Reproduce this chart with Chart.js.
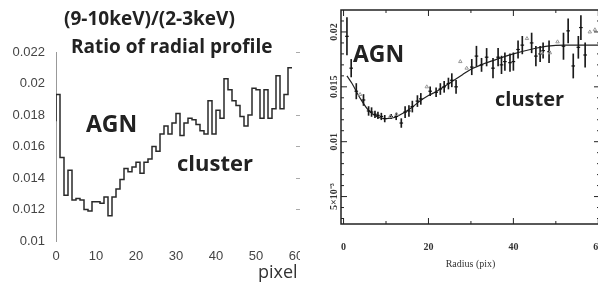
<!DOCTYPE html>
<html lang="en">
<head>
  <meta charset="UTF-8" />
  <title>Ratio of radial profile</title>
  <script src="https://cdn.jsdelivr.net/npm/chart.js"></script>
  <style>
    body {
      margin: 0;
      width: 598px;
      height: 283px;
      overflow: hidden;
      position: relative;
      background: #fff;
      font-family: "Open Sans", Arial, sans-serif;
    }
    #leftChart { position: absolute; left: 0; top: 0; }
    #rightChart { position: absolute; left: 300px; top: 0; background: #fff; }
    .note {
      position: absolute;
      white-space: nowrap;
      font-weight: bold;
      color: #222;
      line-height: 1;
    }
  </style>
</head>
<body>
  <canvas id="leftChart" width="312" height="283"></canvas>
  <canvas id="rightChart" width="320" height="283"></canvas>

  <div class="note" style="left:64px; top:9px; font-size:19px;">(9-10keV)/(2-3keV)</div>
  <div class="note" style="left:71px; top:37px; font-size:19px;">Ratio of radial profile</div>
  <div class="note" style="left:86px; top:112px; font-size:23px;">AGN</div>
  <div class="note" style="left:177px; top:151px; font-size:22px;">cluster</div>
  <div class="note" style="left:258px; top:262px; font-size:18px; font-weight:normal; color:#333;">pixel</div>
  <div class="note" style="left:353px; top:42px; font-size:23px;">AGN</div>
  <div class="note" style="left:495px; top:89px; font-size:20px;">cluster</div>

  <script>
    // left panel: (9-10keV)/(2-3keV) ratio, one value per pixel bin
    const pixelBins = [0, 1, 2, 3, 4, 5, 6, 7, 8, 9, 10, 11, 12, 13, 14, 15, 16, 17, 18, 19,
      20, 21, 22, 23, 24, 25, 26, 27, 28, 29, 30, 31, 32, 33, 34, 35, 36, 37, 38, 39,
      40, 41, 42, 43, 44, 45, 46, 47, 48, 49, 50, 51, 52, 53, 54, 55, 56, 57, 58];
    const binRatio = [0.0193, 0.0153, 0.0129, 0.0145, 0.0126, 0.0127, 0.0126, 0.0120, 0.0119, 0.0125,
      0.0125, 0.0124, 0.0128, 0.0116, 0.0128, 0.0133, 0.0139, 0.0146, 0.0144, 0.0147,
      0.0150, 0.0143, 0.0150, 0.0152, 0.0160, 0.0157, 0.0168, 0.0173, 0.0168, 0.0175,
      0.0181, 0.0167, 0.0175, 0.0178, 0.0177, 0.0174, 0.0170, 0.0168, 0.0189, 0.0168,
      0.0183, 0.0178, 0.0203, 0.0196, 0.0189, 0.0186, 0.0179, 0.0173, 0.0180, 0.0197,
      0.0196, 0.0178, 0.0196, 0.0178, 0.0184, 0.0205, 0.0184, 0.0193, 0.0210];
    const startRatio = 0.0176;
    const pixelTicks = [0, 10, 20, 30, 40, 50, 60];
    const ratioTicks = [0.01, 0.012, 0.014, 0.016, 0.018, 0.02, 0.022];
    const rightDashes = [0.012, 0.014, 0.016, 0.018, 0.022];

    // right panel: measured profile with errors, model curve, second set (triangles)
    const radius = [0.8, 1.8, 3.0, 4.7, 5.9, 6.6, 7.4, 8.1, 8.9, 9.7, 11.2, 12.4, 13.6, 14.5, 15.4, 16.2,
      17.4, 18.2, 20.4, 21.8, 22.8, 23.7, 24.7, 25.5, 26.5, 30.2, 31.3, 32.5, 33.7, 35.2, 36.4, 37.2,
      38.0, 39.2, 40.0, 41.1, 42.1, 44.3, 45.3, 46.3, 47.0, 48.4, 51.8, 52.9, 54.1, 55.3, 55.9, 56.9];
    const profile = [0.0196, 0.0167, 0.0146, 0.0138, 0.0128, 0.0127, 0.0125, 0.0124, 0.0123, 0.0121,
      0.0123, 0.0123, 0.0117, 0.0127, 0.0128, 0.0132, 0.0137, 0.0139, 0.0146, 0.0145, 0.0148,
      0.0150, 0.0153, 0.0156, 0.0150, 0.0168, 0.0178, 0.0170, 0.0177, 0.0167, 0.0177, 0.0170,
      0.0173, 0.0172, 0.0173, 0.0184, 0.0188, 0.0190, 0.0178, 0.0180, 0.0183, 0.0182, 0.0187,
      0.0201, 0.0169, 0.0186, 0.0204, 0.0179];
    const profileErr = [0.0017, 0.0008, 0.0007, 0.0005, 0.0004, 0.0004, 0.0003, 0.0003, 0.0003, 0.0003,
      0.0002, 0.0003, 0.0004, 0.0005, 0.0005, 0.0005, 0.0005, 0.0005, 0.0004, 0.0004, 0.0005,
      0.0005, 0.0005, 0.0006, 0.0006, 0.0007, 0.0009, 0.0006, 0.0008, 0.0009, 0.0008, 0.0008,
      0.0008, 0.0008, 0.0008, 0.0008, 0.0008, 0.0009, 0.0009, 0.0007, 0.0007, 0.0010, 0.0012,
      0.0011, 0.0011, 0.0010, 0.0011, 0.0011];
    const modelRadius = [0.8, 2, 4, 6, 8, 10, 12, 14, 16, 18, 20, 22, 24, 26, 28, 30, 33, 36, 40, 44, 48, 52, 56, 60];
    const modelRatio = [0.0160, 0.0153, 0.0139, 0.0128, 0.01225, 0.0121, 0.0122, 0.0126, 0.0131, 0.0137,
      0.0142, 0.0146, 0.0151, 0.0156, 0.0161, 0.0166, 0.0171, 0.0175, 0.0180, 0.0184, 0.0187,
      0.0188, 0.0188, 0.0188];
    const triRadius = [3.9, 11.0, 12.5, 19.6, 27.5, 29.0, 43.2, 46.7, 48.6, 50.4, 58.0, 59.2];
    const triRatio = [0.0143, 0.0123, 0.0125, 0.0150, 0.0173, 0.0167, 0.0194, 0.0181, 0.0181, 0.0191, 0.0200, 0.0202];
    const radiusTicks = [0, 20, 40, 60];
    const radiusMinor = [10, 30, 50];
    const profileTicks = [0.005, 0.01, 0.015, 0.02];
    const profileLabels = ['5×10⁻³', '0.01', '0.015', '0.02'];

    // ---------- left chart ----------
    const histPoints = [{ x: 0, y: startRatio }].concat(
      pixelBins.map((p, i) => ({ x: p + 1, y: binRatio[i] }))
    );

    const tickFont = { family: 'Liberation Sans', size: 13 };

    new Chart(document.getElementById('leftChart'), {
      type: 'line',
      data: {
        datasets: [{
          data: histPoints,
          stepped: 'after',
          borderColor: '#2a2a2a',
          borderWidth: 1.5,
          pointRadius: 0,
          fill: false
        }]
      },
      options: {
        responsive: false,
        animation: false,
        layout: { padding: { top: 52, right: 12, left: 0, bottom: 0 } },
        plugins: { legend: { display: false }, tooltip: { enabled: false } },
        scales: {
          x: {
            type: 'linear', min: 0, max: 60,
            afterBuildTicks: s => { s.ticks = pixelTicks.map(v => ({ value: v })); },
            afterFit: s => { s.height = 42; },
            grid: { display: false },
            border: { display: false },
            ticks: { color: '#444', font: tickFont, padding: 0, maxRotation: 0 }
          },
          y: {
            type: 'linear', min: 0.01, max: 0.022,
            afterBuildTicks: s => { s.ticks = ratioTicks.map(v => ({ value: v })); },
            afterFit: s => { s.width = 56; },
            grid: { drawOnChartArea: false, drawTicks: false },
            border: { color: '#999', width: 1 },
            ticks: { color: '#444', font: tickFont, padding: 11, callback: v => String(+v.toFixed(3)) }
          },
          y2: {
            type: 'linear', position: 'right', min: 0.01, max: 0.022,
            afterBuildTicks: s => { s.ticks = rightDashes.map(v => ({ value: v })); },
            afterFit: s => { s.width = 4; },
            ticks: { display: false },
            grid: { drawOnChartArea: false, drawTicks: true, tickLength: 5, color: '#aaa' },
            border: { display: false }
          }
        }
      }
    });

    // ---------- right chart ----------
    const pgFrame = {
      id: 'pgFrame',
      afterDraw(chart) {
        const { ctx, chartArea: a, scales: { x, y } } = chart;
        const seg = (x1, y1, x2, y2) => { ctx.beginPath(); ctx.moveTo(x1, y1); ctx.lineTo(x2, y2); ctx.stroke(); };
        ctx.save();
        ctx.strokeStyle = '#222';
        ctx.lineWidth = 1.5;
        ctx.strokeRect(a.left, a.top, a.right - a.left, a.bottom - a.top);
        ctx.lineWidth = 1;
        radiusTicks.forEach(v => {
          const px = x.getPixelForValue(v);
          seg(px, a.bottom, px, a.bottom - 6);
          seg(px, a.top, px, a.top + 6);
        });
        radiusMinor.forEach(v => {
          const px = x.getPixelForValue(v);
          seg(px, a.bottom, px, a.bottom - 3);
          seg(px, a.top, px, a.top + 3);
        });
        profileTicks.forEach(v => {
          const py = y.getPixelForValue(v);
          seg(a.left, py, a.left + 6, py);
          seg(a.right, py, a.right - 6, py);
        });
        for (let m = 3; m <= 21; m++) {
          if (m % 5 === 0) continue;
          const py = y.getPixelForValue(m / 1000);
          seg(a.left, py, a.left + 3, py);
          seg(a.right, py, a.right - 3, py);
        }
        // rotated y labels, PGPLOT style
        ctx.fillStyle = '#333';
        ctx.font = 'bold 10px "Liberation Serif"';
        ctx.textAlign = 'center';
        ctx.textBaseline = 'middle';
        profileTicks.forEach((v, i) => {
          ctx.save();
          ctx.translate(a.left - 7, y.getPixelForValue(v));
          ctx.rotate(-Math.PI / 2);
          ctx.fillText(profileLabels[i], 0, 0);
          ctx.restore();
        });
        ctx.restore();
      }
    };

    new Chart(document.getElementById('rightChart'), {
      type: 'scatter',
      data: {
        datasets: [
          {
            type: 'line',
            data: modelRadius.map((r, i) => ({ x: r, y: modelRatio[i] })),
            borderColor: '#222',
            borderWidth: 1.2,
            pointRadius: 0,
            cubicInterpolationMode: 'monotone',
            order: 3
          },
          {
            type: 'bar',
            data: radius.map((r, i) => ({ x: r, y: [profile[i] - profileErr[i], profile[i] + profileErr[i]] })),
            backgroundColor: '#1a1a1a',
            barThickness: 1,
            order: 2
          },
          {
            data: radius.map((r, i) => ({ x: r, y: profile[i] })),
            pointStyle: 'line',
            pointRadius: 1.8,
            borderColor: '#111',
            borderWidth: 1.2,
            order: 1
          },
          {
            data: triRadius.map((r, i) => ({ x: r, y: triRatio[i] })),
            pointStyle: 'triangle',
            pointRadius: 2,
            borderColor: '#999',
            backgroundColor: 'rgba(0,0,0,0)',
            borderWidth: 1,
            order: 0
          }
        ]
      },
      options: {
        responsive: false,
        animation: false,
        layout: { padding: { top: 10, right: 20, left: 41, bottom: 0 } },
        plugins: { legend: { display: false }, tooltip: { enabled: false } },
        scales: {
          x: {
            type: 'linear', min: -0.6, max: 60.4, offset: false,
            afterBuildTicks: s => { s.ticks = radiusTicks.map(v => ({ value: v })); },
            afterFit: s => { s.height = 59; },
            grid: { display: false },
            border: { display: false },
            ticks: { color: '#333', font: { family: 'Liberation Serif', size: 10, weight: 'bold' }, padding: 9, maxRotation: 0 },
            title: {
              display: true, text: 'Radius (pix)', color: '#333',
              font: { family: 'Liberation Serif', size: 10 },
              padding: { top: 0, bottom: 13 }
            }
          },
          y: {
            type: 'linear', min: 0.0025, max: 0.022, display: false
          }
        }
      },
      plugins: [pgFrame]
    });
  </script>
</body>
</html>
